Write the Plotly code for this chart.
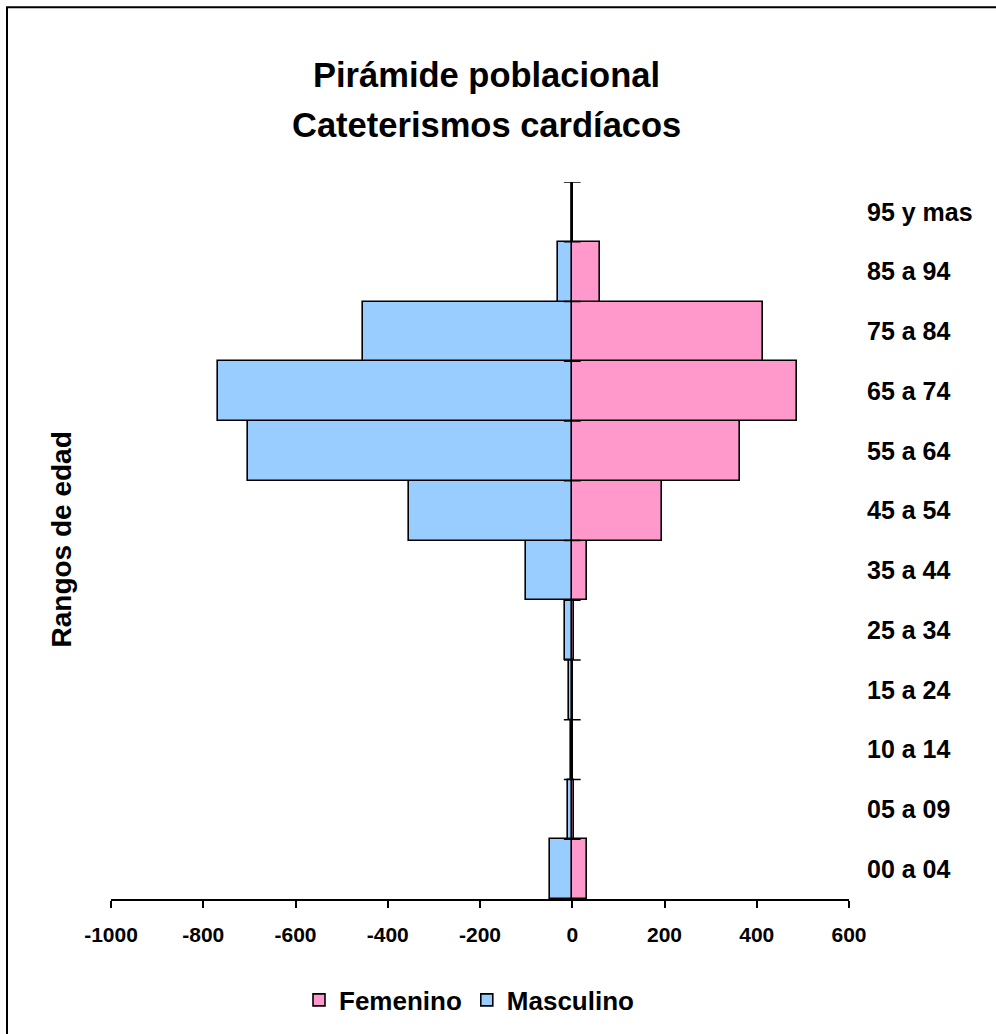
import plotly.graph_objects as go

categories = ["00 a 04", "05 a 09", "10 a 14", "15 a 24", "25 a 34", "35 a 44",
              "45 a 54", "55 a 64", "65 a 74", "75 a 84", "85 a 94", "95 y mas"]
masculino = [49, 9, 2, 8, 15, 100, 355, 702, 769, 454, 30, 0]
femenino = [32, 3, 2, 1, 4, 32, 195, 363, 487, 413, 61, 0]
x_ticks = [-1000, -800, -600, -400, -200, 0, 200, 400, 600]
x_tick_labels = ["-1000", "-800", "-600", "-400", "-200", "0", "200", "400", "600"]

FONT = "Liberation Sans, Arial, sans-serif"
ypos = list(range(len(categories)))
boundaries = [i - 0.5 for i in range(len(categories) + 1)]

fig = go.Figure()
fig.add_trace(go.Bar(
    y=ypos, x=femenino, orientation="h", name="Femenino",
    marker=dict(color="#FF99CC", line=dict(color="black", width=1.6)),
))
fig.add_trace(go.Bar(
    y=ypos, x=[-v for v in masculino], orientation="h", name="Masculino",
    marker=dict(color="#99CCFF", line=dict(color="black", width=1.6)),
))
# category-boundary tick marks on the vertical axis at x=0
fig.add_trace(go.Scatter(
    x=[0] * len(boundaries), y=boundaries, mode="markers", showlegend=False,
    hoverinfo="skip",
    marker=dict(symbol="line-ew", size=12, line=dict(color="black", width=1.5)),
))

L, R, T, B = 111, 147, 182, 134
W, H = 996, 1034
pw, ph = W - L - R, H - T - B

def px(xp):
    return (xp - L) / pw

def py(yp):
    return (H - B - yp) / ph

fig.update_layout(
    width=W, height=H,
    margin=dict(l=L, r=R, t=T, b=B, pad=0),
    paper_bgcolor="white", plot_bgcolor="white",
    barmode="overlay", bargap=0,
    font=dict(family=FONT, color="black"),
    showlegend=True,
    legend=dict(orientation="h", x=px(469), xanchor="center", y=py(1000), yanchor="middle",
                font=dict(size=26, weight="bold", family=FONT), traceorder="normal",
                itemwidth=30),
    xaxis=dict(range=[-1000, 600], tickvals=x_ticks, ticktext=x_tick_labels, showgrid=False,
               showline=True, linecolor="black", linewidth=1.5,
               ticks="outside", ticklen=7, tickwidth=1.5, tickcolor="black",
               ticklabelstandoff=9,
               zeroline=True, zerolinecolor="black", zerolinewidth=1.8,
               tickfont=dict(size=21, weight="bold", family=FONT)),
    yaxis=dict(range=[-0.5, len(categories) - 0.5], tickvals=ypos, ticktext=categories,
               side="right", showgrid=False, showline=False, zeroline=False,
               ticks="", ticklabelstandoff=17,
               tickfont=dict(size=25, weight="bold", family=FONT)),
    annotations=[
        dict(text="Pirámide poblacional", xref="paper", yref="paper",
             x=px(486), y=py(75), xanchor="center", yanchor="middle", showarrow=False,
             font=dict(size=34.5, weight="bold", family=FONT)),
        dict(text="Cateterismos cardíacos", xref="paper", yref="paper",
             x=px(486), y=py(125), xanchor="center", yanchor="middle", showarrow=False,
             font=dict(size=34.5, weight="bold", family=FONT)),
        dict(text="Rangos de edad", xref="paper", yref="paper",
             x=px(62), y=py(540), xanchor="center", yanchor="middle", showarrow=False,
             textangle=-90, font=dict(size=28, weight="bold", family=FONT)),
    ],
    shapes=[
        dict(type="rect", xref="paper", yref="paper",
             x0=px(7), x1=px(1010), y0=py(1050), y1=py(7),
             line=dict(color="black", width=2), fillcolor="rgba(0,0,0,0)", layer="below"),
    ],
)

fig.write_html("out.html", config={"displayModeBar": False},
               post_script="document.body.style.margin='0px';")
